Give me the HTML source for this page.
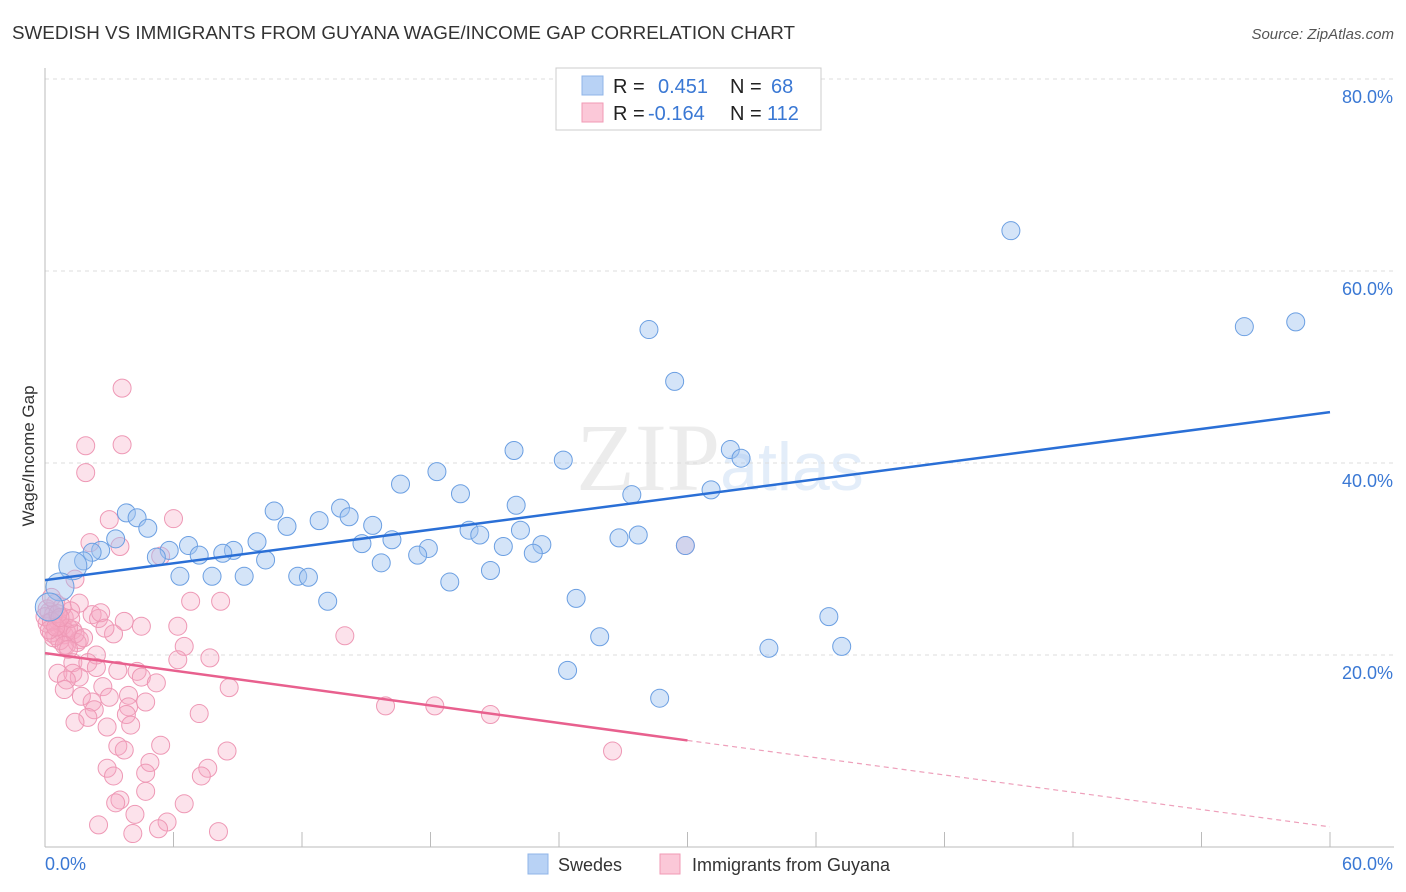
<!DOCTYPE html>
<html><head><meta charset="utf-8"><style>
body{margin:0;background:#fff;font-family:"Liberation Sans",sans-serif;}
#wrap{position:relative;width:1406px;height:892px;overflow:hidden;}
</style></head><body>
<div id="wrap">
<svg id="chart" width="1406" height="892" xmlns="http://www.w3.org/2000/svg">
<text x="12" y="39" font-size="18" fill="#333" textLength="783" lengthAdjust="spacingAndGlyphs">SWEDISH VS IMMIGRANTS FROM GUYANA WAGE/INCOME GAP CORRELATION CHART</text>
<text x="1394" y="39" font-size="15" fill="#555" font-style="italic" text-anchor="end">Source: ZipAtlas.com</text>
<text x="34" y="456" font-size="17" fill="#333" text-anchor="middle" transform="rotate(-90 34 456)">Wage/Income Gap</text>
<text x="720" y="490" font-size="96" fill="#ececec" text-anchor="middle" font-family="Liberation Serif,serif">ZIP<tspan fill="#e3edf9" font-family="Liberation Sans,sans-serif" font-size="68">atlas</tspan></text>
<g id="grid"></g><g id="axes"></g><g id="pts"></g><g id="lines"></g>
<g>
<rect x="556" y="68" width="265" height="62" fill="#fff" stroke="#ccc"/>
<rect x="582" y="76" width="21" height="19" fill="#b8d2f5" stroke="#8fb4e8"/>
<rect x="582" y="103" width="21" height="19" fill="#fbc8d8" stroke="#f09ab5"/>
<text x="613" y="93" font-size="20" fill="#222">R = </text><text x="658" y="93" font-size="20" fill="#3a78d4">0.451</text>
<text x="730" y="93" font-size="20" fill="#222">N = </text><text x="771" y="93" font-size="20" fill="#3a78d4">68</text>
<text x="613" y="120" font-size="20" fill="#222">R = </text><text x="648" y="120" font-size="20" fill="#3a78d4">-0.164</text>
<text x="730" y="120" font-size="20" fill="#222">N = </text><text x="767" y="120" font-size="20" fill="#3a78d4">112</text>
</g>
<g>
<rect x="528" y="854" width="20" height="20" fill="#b8d2f5" stroke="#8fb4e8"/>
<text x="558" y="871" font-size="18" fill="#333">Swedes</text>
<rect x="660" y="854" width="20" height="20" fill="#fbc8d8" stroke="#f09ab5"/>
<text x="692" y="871" font-size="18" fill="#333">Immigrants from Guyana</text>
</g>
</svg></div>
<script>
const xTickLabels=["0.0%","60.0%"];
const yTicks=[20,40,60,80];
const yTickLabels=["20.0%","40.0%","60.0%","80.0%"];
const blueX=[45.1,28.2,56.0,58.4,29.4,21.9,24.2,32.0,32.5,18.3,16.6,19.4,27.4,31.1,22.0,13.8,10.7,3.8,4.3,12.8,14.2,15.3,11.3,4.8,19.8,22.2,20.3,3.3,9.9,16.2,14.8,26.8,27.7,23.2,6.7,8.8,5.8,2.6,21.4,17.9,2.2,7.2,8.3,22.8,17.4,5.2,10.3,1.8,1.3,15.7,6.3,7.8,9.3,11.8,12.3,20.8,18.9,0.7,24.8,13.2,36.6,25.9,33.8,37.2,24.4,28.7,29.9,0.2];
const blueY=[64.2,53.9,54.2,54.7,48.5,41.3,40.3,41.4,40.5,39.1,37.8,36.8,36.7,37.2,35.6,35.3,35.0,34.8,34.3,34.0,34.4,33.5,33.4,33.2,33.0,33.0,32.5,32.1,31.8,32.0,31.6,32.2,32.5,31.5,31.4,30.9,30.9,30.9,31.3,31.1,30.7,30.4,30.6,30.6,30.4,30.2,29.9,29.8,29.3,29.6,28.2,28.2,28.2,28.2,28.1,28.8,27.6,27.1,25.9,25.6,24.0,21.9,20.7,20.9,18.4,15.5,31.4,25.0];
const blueBig=[0,0,0,0,0,0,0,0,0,0,0,0,0,0,0,0,0,0,0,0,0,0,0,0,0,0,0,0,0,0,0,0,0,0,0,0,0,0,0,0,0,0,0,0,0,0,0,0,1,0,0,0,0,0,0,0,0,1,0,0,0,0,0,0,0,0,0,1];
const pinkX=[3.6,1.9,3.6,1.9,3.0,6.0,2.1,3.5,5.4,29.9,1.4,6.8,8.2,1.6,0.5,0.2,0.9,2.2,3.7,2.5,4.5,6.2,0.6,1.3,0.3,3.2,0.9,14.0,1.6,6.5,1.0,2.4,7.7,6.2,1.3,2.0,2.4,3.4,4.3,0.6,1.3,1.6,4.5,5.2,1.0,8.6,2.7,0.9,1.7,3.9,3.0,2.2,4.7,3.9,15.9,18.2,2.3,7.2,20.8,3.8,2.0,1.4,4.0,2.9,3.4,5.4,3.7,8.5,26.5,4.9,2.9,7.6,4.7,3.2,7.3,4.7,3.5,3.3,6.5,4.2,5.7,2.5,8.1,5.3,4.1,0.1,0.4,0.6,0.8,0.1,0.5,0.7,1.2,1.5,1.1,0.0,0.3,1.0,0.4,0.8,1.2,0.2,0.6,1.4,0.9,0.3,1.8,2.6,1.1,0.5,0.7,2.8];
const pinkY=[47.8,41.8,41.9,39.0,34.1,34.2,31.7,31.3,30.3,31.4,27.9,25.6,25.6,25.4,25.4,24.5,23.9,24.2,23.5,23.8,23.0,23.0,23.0,22.6,22.3,22.2,22.1,22.0,21.6,20.9,21.0,20.0,19.7,19.5,19.2,19.2,18.7,18.4,18.3,18.1,18.1,17.7,17.7,17.1,17.4,16.6,16.7,16.4,15.7,15.8,15.6,15.1,15.1,14.6,14.7,14.7,14.3,13.9,13.8,13.8,13.5,13.0,12.7,12.5,10.5,10.6,10.1,10.0,10.0,8.8,8.2,8.2,7.7,7.4,7.4,5.8,4.9,4.6,4.5,3.4,2.6,2.3,1.6,1.9,1.4,24.8,24.2,23.6,23.0,23.3,22.0,21.5,24.6,21.3,22.8,24.0,23.5,22.4,21.8,25.0,23.8,22.6,24.3,22.2,21.0,26.0,21.8,24.4,20.6,22.9,23.9,22.8];
const blueTrend=[27.8,45.3];
const pinkTrend=[20.2,11.1,2.1];
const NS="http://www.w3.org/2000/svg";
function sx(v){return 45+v*(1330-45)/60;}
function sy(v){return 847-v*9.6;}
function mk(tag,attrs,parent){const e=document.createElementNS(NS,tag);for(const k in attrs)e.setAttribute(k,attrs[k]);parent.appendChild(e);return e;}
const grid=document.getElementById('grid'),axes=document.getElementById('axes'),pts=document.getElementById('pts'),lines=document.getElementById('lines');
yTicks.forEach((t,i)=>{
 const l=mk('line',{x1:45,x2:1394,y1:sy(t),y2:sy(t),stroke:'#ddd','stroke-dasharray':'4,4'},grid);
 
 
 const tx=mk('text',{x:1393,y:sy(t)+24,'font-size':18,fill:'#3a78d4','text-anchor':'end'},grid);
 tx.textContent=yTickLabels[i];
 
 
});
mk('line',{x1:45,x2:1394,y1:79,y2:79,stroke:'#ddd','stroke-dasharray':'4,4'},grid);
mk('line',{x1:45,x2:45,y1:68,y2:847,stroke:'#bbb'},axes);
mk('line',{x1:45,x2:1394,y1:847,y2:847,stroke:'#bbb'},axes);
for(let i=1;i<=10;i++){const t=mk('line',{x1:sx(i*6),x2:sx(i*6),y1:832,y2:847,stroke:'#bbb'},axes);
 
 }
const xl0=mk('text',{x:45,y:870,'font-size':18,fill:'#3a78d4'},axes);xl0.textContent=xTickLabels[0];


const xl1=mk('text',{x:1393,y:870,'font-size':18,fill:'#3a78d4','text-anchor':'end'},axes);xl1.textContent=xTickLabels[1];


pinkX.forEach((x,i)=>{const c=mk('circle',{cx:sx(x),cy:sy(pinkY[i]),r:9,fill:'rgba(247,168,195,0.33)',stroke:'#ee98b5','stroke-width':1},pts);
 
 });
blueX.forEach((x,i)=>{const c=mk('circle',{cx:sx(x),cy:sy(blueY[i]),r:blueBig[i]?14:9,fill:'rgba(160,196,240,0.45)',stroke:'#6b9fe2','stroke-width':1},pts);
 
 });
const bl=mk('line',{x1:sx(0),y1:sy(blueTrend[0]),x2:sx(60),y2:sy(blueTrend[1]),stroke:'#2a6fd6','stroke-width':2.5},lines);


const pl=mk('line',{x1:sx(0),y1:sy(pinkTrend[0]),x2:sx(30),y2:sy(pinkTrend[1]),stroke:'#e8608e','stroke-width':2.5},lines);


const pd=mk('line',{x1:sx(30),y1:sy(pinkTrend[1]),x2:sx(60),y2:sy(pinkTrend[2]),stroke:'#eea0bb','stroke-width':1.2,'stroke-dasharray':'5,4'},lines);


</script>
</body></html>
